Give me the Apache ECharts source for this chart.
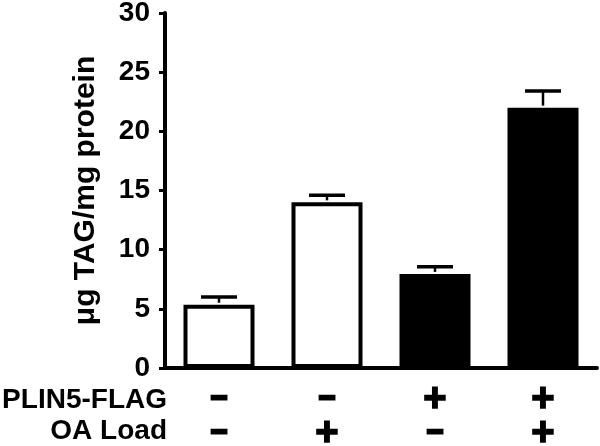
<!DOCTYPE html>
<html>
<head>
<meta charset="utf-8">
<script src="https://cdn.jsdelivr.net/npm/echarts@6/dist/echarts.min.js"></script>
<style>
  html, body { margin: 0; padding: 0; background: #fff; }
  #main { width: 600px; height: 446px; }
</style>
</head>
<body>
<div id="main"></div>
<script>
// groups in order
var plin5 = ['-', '-', '+', '+'];
var oaLoad = ['-', '+', '-', '+'];
var tagMean = [5.35, 14.0, 7.95, 22.0];
var tagErr = [0.65, 0.6, 0.6, 1.4];
var barFill = ['#fff', '#fff', '#000', '#000'];
var yTicks = [0, 5, 10, 15, 20, 25, 30];

var categories = plin5.map(function (p, i) { return p + '\n' + oaLoad[i]; });

var chart = echarts.init(document.getElementById('main'));
var font = '"Liberation Sans", Arial, sans-serif';

function sign(s) {
  return s === '+' ? '{p|+}' : '{m|\u2013}';
}

var option = {
  backgroundColor: '#fff',
  animation: false,
  grid: { left: 165, right: 3, top: 13, bottom: 78, outerBoundsMode: 'none', containLabel: false },
  xAxis: {
    type: 'category',
    data: categories,
    axisLine: { lineStyle: { color: '#000', width: 4 } },
    axisTick: { show: false },
    axisLabel: {
      margin: 12,
      lineHeight: 34,
      formatter: function (v) {
        return v.split('\n').map(sign).join('\n');
      },
      rich: {
        p: { fontFamily: font, fontWeight: 'bold', fontSize: 40, lineHeight: 34, color: '#000',
             textBorderColor: '#000', textBorderWidth: 1.5, verticalAlign: 'middle', padding: [5, 0, 0, 0] },
        m: { fontFamily: font, fontWeight: 'bold', fontSize: 28, lineHeight: 34, color: '#000',
             textBorderColor: '#000', textBorderWidth: 3, verticalAlign: 'middle' }
      }
    }
  },
  yAxis: {
    type: 'value',
    min: yTicks[0],
    max: yTicks[yTicks.length - 1],
    interval: 5,
    name: '\u03bcg TAG/mg protein',
    nameLocation: 'middle',
    nameGap: 64,
    nameTextStyle: { color: '#000', fontFamily: font, fontWeight: 'bold', fontSize: 30 },
    splitLine: { show: false },
    axisLine: { show: true, lineStyle: { color: '#000', width: 4 } },
    axisTick: { show: true, length: 6, lineStyle: { color: '#000', width: 3 } },
    axisLabel: { color: '#000', fontFamily: font, fontWeight: 'bold', fontSize: 28, margin: 15 }
  },
  graphic: [
    { type: 'text', right: 433, top: 386, style: { text: 'PLIN5-FLAG', fill: '#000', font: 'bold 28px ' + font } },
    { type: 'text', right: 433, top: 417, style: { text: 'OA Load', fill: '#000', font: 'bold 28px ' + font } }
  ],
  series: [
    {
      type: 'bar',
      barWidth: 71,
      data: tagMean.map(function (v, i) {
        return { value: v, itemStyle: { color: barFill[i], borderColor: '#000', borderWidth: 4 } };
      })
    },
    {
      type: 'custom',
      z: 3,
      data: tagMean.map(function (v, i) { return [i, v, v + tagErr[i]]; }),
      renderItem: function (params, api) {
        var lo = api.coord([api.value(0), api.value(1)]);
        var hi = api.coord([api.value(0), api.value(2)]);
        var half = 18;
        return {
          type: 'group',
          children: [
            { type: 'line', shape: { x1: lo[0], y1: lo[1] - 2, x2: hi[0], y2: hi[1] }, style: { stroke: '#000', lineWidth: 2.5 } },
            { type: 'line', shape: { x1: hi[0] - half, y1: hi[1], x2: hi[0] + half, y2: hi[1] }, style: { stroke: '#000', lineWidth: 3.5 } }
          ]
        };
      }
    }
  ]
};

chart.setOption(option);
</script>
</body>
</html>
